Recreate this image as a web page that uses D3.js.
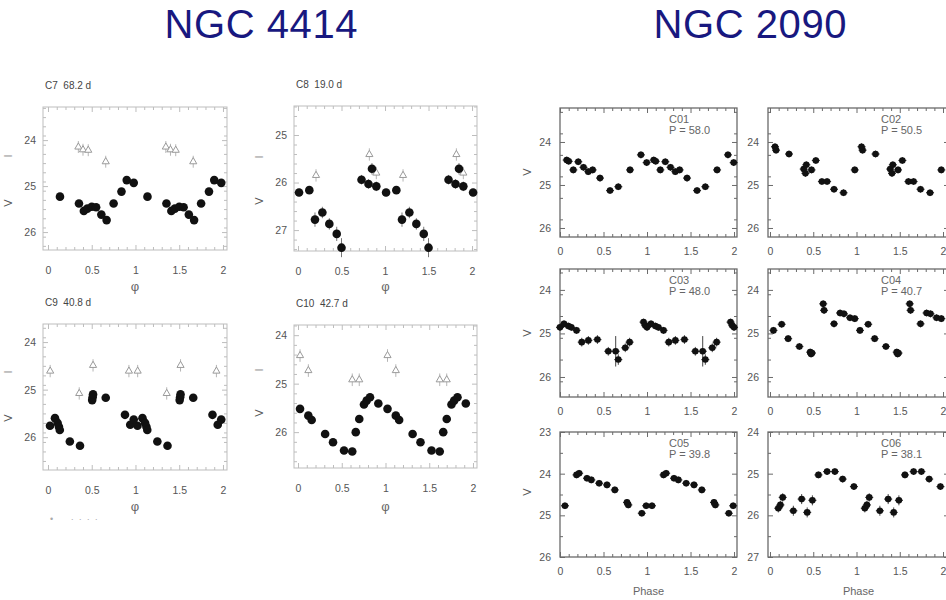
<!DOCTYPE html>
<html><head><meta charset="utf-8">
<script src="https://cdn.jsdelivr.net/npm/d3@7"></script>
<style>body{margin:0;background:#fff}svg{display:block}</style>
</head><body>
<svg id="c" width="946" height="600"></svg>
<script>
// ---------- DATA ----------
const galaxyTitles = ["NGC 4414", "NGC 2090"];
const xTickValues = [0, 0.5, 1, 1.5, 2];
const xTickLabels = ["0", "0.5", "1", "1.5", "2"];

// NGC 4414 (V filled circles, I open triangles)
const c7Label = "C7  68.2 d";
const c7Phase = [0.137, 0.354, 0.41, 0.45, 0.50, 0.55, 0.61, 0.67, 0.75, 0.84, 0.90, 0.98];
const c7V     = [25.23, 25.38, 25.54, 25.49, 25.45, 25.46, 25.62, 25.74, 25.38, 25.12, 24.87, 24.93];
const c7IPhase = [0.347, 0.40, 0.46, 0.66];
const c7I      = [24.15, 24.21, 24.22, 24.47];
const c7YTicks = [24, 25, 26];

const c8Label = "C8  19.0 d";
const c8Phase = [0.012, 0.13, 0.195, 0.28, 0.36, 0.445, 0.50, 0.73, 0.81, 0.85, 0.90];
const c8V     = [26.21, 26.16, 26.78, 26.63, 26.87, 27.08, 27.37, 25.94, 26.03, 25.71, 26.08];
const c8VErr  = [0.08, 0.08, 0.15, 0.12, 0.12, 0.15, 0.2, 0.1, 0.1, 0.12, 0.1];
const c8IPhase = [0.207, 0.82, 0.90];
const c8I      = [25.85, 25.41, 25.80];
const c8YTicks = [25, 26, 27];

const c9Label = "C9  40.8 d";
const c9Phase = [0.023, 0.08, 0.11, 0.125, 0.135, 0.25, 0.366, 0.505, 0.51, 0.515, 0.66, 0.88, 0.94, 0.98];
const c9V     = [25.76, 25.60, 25.70, 25.78, 25.85, 26.09, 26.18, 25.22, 25.16, 25.10, 25.17, 25.53, 25.74, 25.63];
const c9IPhase = [0.025, 0.357, 0.515, 0.925];
const c9I      = [24.61, 25.08, 24.49, 24.61];
const c9YTicks = [24, 25, 26];

const c10Label = "C10  42.7 d";
const c10Phase = [0.023, 0.118, 0.156, 0.31, 0.40, 0.526, 0.62, 0.66, 0.70, 0.754, 0.785, 0.823, 0.918];
const c10V     = [25.52, 25.66, 25.75, 26.04, 26.21, 26.38, 26.40, 26.00, 25.73, 25.43, 25.35, 25.28, 25.41];
const c10IPhase = [0.023, 0.118, 0.62, 0.70];
const c10I      = [24.42, 24.73, 24.92, 24.92];
const c10YTicks = [24, 25, 26];

// NGC 2090 (V only)
const c01Name = "C01", c01Period = "P = 58.0";
const c01Phase = [0.077, 0.10, 0.153, 0.21, 0.27, 0.325, 0.375, 0.46, 0.575, 0.67, 0.805, 0.93, 0.996];
const c01V     = [24.42, 24.45, 24.65, 24.46, 24.59, 24.69, 24.65, 24.84, 25.13, 25.04, 24.65, 24.30, 24.48];

const c02Name = "C02", c02Period = "P = 50.5";
const c02Phase = [0.058, 0.07, 0.22, 0.39, 0.41, 0.42, 0.48, 0.53, 0.60, 0.66, 0.74, 0.85, 0.98];
const c02V     = [24.11, 24.19, 24.28, 24.63, 24.73, 24.53, 24.65, 24.43, 24.92, 24.92, 25.10, 25.18, 24.65];

const c03Name = "C03", c03Period = "P = 48.0";
const c03Phase = [0.0, 0.046, 0.096, 0.13, 0.19, 0.25, 0.326, 0.43, 0.555, 0.64, 0.67, 0.75, 0.80, 0.96, 0.98];
const c03V     = [24.86, 24.78, 24.83, 24.86, 24.93, 25.20, 25.16, 25.14, 25.41, 25.41, 25.60, 25.33, 25.20, 24.74, 24.82];
const c03VErr  = [0.08, 0.08, 0.08, 0.08, 0.08, 0.1, 0.1, 0.1, 0.1, 0.35, 0.12, 0.1, 0.1, 0.08, 0.08];

const c04Name = "C04", c04Period = "P = 40.7";
const c04Phase = [0.04, 0.135, 0.21, 0.34, 0.465, 0.475, 0.485, 0.615, 0.625, 0.74, 0.81, 0.855, 0.925, 0.98];
const c04V     = [24.93, 24.79, 25.12, 25.30, 25.43, 25.47, 25.45, 24.32, 24.47, 24.78, 24.53, 24.55, 24.64, 24.66];

const c05Name = "C05", c05Period = "P = 39.8";
const c05Phase = [0.057, 0.19, 0.22, 0.31, 0.36, 0.45, 0.54, 0.63, 0.77, 0.785, 0.94, 0.99];
const c05V     = [24.77, 24.03, 23.99, 24.11, 24.15, 24.23, 24.27, 24.39, 24.69, 24.75, 24.95, 24.77];

const c06Name = "C06", c06Period = "P = 38.1";
const c06Phase = [0.096, 0.12, 0.147, 0.27, 0.366, 0.43, 0.49, 0.56, 0.66, 0.75, 0.84, 0.97];
const c06V     = [25.83, 25.75, 25.57, 25.89, 25.61, 25.93, 25.64, 25.03, 24.95, 24.95, 25.13, 25.31];
const c06VErr  = [0.1, 0.1, 0.1, 0.12, 0.12, 0.12, 0.12, 0.08, 0.08, 0.08, 0.08, 0.08];

const yTicksA = [24, 25, 26];
const yTicksC05 = [23, 24, 25, 26];
const yTicksC06 = [24, 25, 26, 27];

// ---------- DRAWING ----------
const svg = d3.select("#c");
svg.append("rect").attr("width", 946).attr("height", 600).attr("fill", "#fff");

const FONT = "'Liberation Sans', Arial, Helvetica, sans-serif";

svg.append("text").attr("x", 261).attr("y", 38).attr("text-anchor", "middle")
  .attr("font-family", FONT).attr("font-size", 40).attr("fill", "#18187f")
  .attr("textLength", 193).text(galaxyTitles[0]);
svg.append("text").attr("x", 750).attr("y", 38).attr("text-anchor", "middle")
  .attr("font-family", FONT).attr("font-size", 40).attr("fill", "#18187f")
  .attr("textLength", 193).text(galaxyTitles[1]);

function range(a, b, s) { const r = []; for (let v = a; v <= b + 1e-9; v += s) r.push(+v.toFixed(4)); return r; }

function fold(phases, mags, errs) {
  const out = [];
  phases.forEach((p, i) => {
    for (let k = 0; k < 3; k++) {
      const q = p + k;
      if (q <= 2.02) out.push({ x: q, y: mags[i], e: errs ? errs[i] : 0 });
    }
  });
  return out;
}

function panel(o) {
  const x = d3.scaleLinear().domain(o.xDom).range([o.x0, o.x1]);
  const y = d3.scaleLinear().domain(o.yDom).range([o.y0, o.y1]);
  const g = svg.append("g");
  const fc = o.frame, tc = o.text;
  const minorX = range(0, 2, 0.1).filter(v => xTickValues.indexOf(v) < 0 && v >= o.xDom[0] && v <= o.xDom[1]);
  const minorY = range(Math.ceil(o.yDom[0] * 10) / 10, o.yDom[1], o.yMinor).filter(v => o.yTicks.indexOf(v) < 0);

  function styleAxis(sel, color) {
    sel.select(".domain").remove();
    sel.selectAll("line").attr("stroke", color).attr("stroke-width", 1);
    sel.selectAll("text").attr("fill", tc).attr("font-family", FONT).attr("font-size", o.fs);
  }
  // bottom
  g.append("g").attr("transform", `translate(0,${o.y1})`)
    .call(d3.axisBottom(x).tickValues(xTickValues).tickSize(-o.maj).tickPadding(o.xPad)
      .tickFormat((d, i) => xTickLabels[i])).call(s => styleAxis(s, fc));
  g.append("g").attr("transform", `translate(0,${o.y1})`)
    .call(d3.axisBottom(x).tickValues(minorX).tickSize(-o.min).tickFormat("")).call(s => styleAxis(s, fc));
  // top
  g.append("g").attr("transform", `translate(0,${o.y0})`)
    .call(d3.axisTop(x).tickValues(xTickValues).tickSize(-o.maj).tickFormat("")).call(s => styleAxis(s, fc));
  g.append("g").attr("transform", `translate(0,${o.y0})`)
    .call(d3.axisTop(x).tickValues(minorX).tickSize(-o.min).tickFormat("")).call(s => styleAxis(s, fc));
  // left
  g.append("g").attr("transform", `translate(${o.x0},0)`)
    .call(d3.axisLeft(y).tickValues(o.yTicks).tickSize(-o.maj).tickPadding(o.yPad).tickFormat(d3.format("d")))
    .call(s => styleAxis(s, fc));
  g.append("g").attr("transform", `translate(${o.x0},0)`)
    .call(d3.axisLeft(y).tickValues(minorY).tickSize(-o.min).tickFormat("")).call(s => styleAxis(s, fc));
  // right
  g.append("g").attr("transform", `translate(${o.x1},0)`)
    .call(d3.axisRight(y).tickValues(o.yTicks).tickSize(-o.maj).tickFormat("")).call(s => styleAxis(s, fc));
  g.append("g").attr("transform", `translate(${o.x1},0)`)
    .call(d3.axisRight(y).tickValues(minorY).tickSize(-o.min).tickFormat("")).call(s => styleAxis(s, fc));
  // frame
  g.append("rect").attr("x", o.x0).attr("y", o.y0).attr("width", o.x1 - o.x0).attr("height", o.y1 - o.y0)
    .attr("fill", "none").attr("stroke", fc).attr("stroke-width", o.fw);

  // I-band triangles
  if (o.iPts) {
    const pts = o.iPts;
    const tg = g.append("g");
    tg.selectAll("line.ie").data(pts).enter().append("line")
      .attr("x1", d => x(d.x)).attr("x2", d => x(d.x))
      .attr("y1", d => y(d.y - 0.13)).attr("y2", d => y(d.y + 0.13))
      .attr("stroke", "#b5b5b5").attr("stroke-width", 1);
    tg.selectAll("path").data(pts).enter().append("path")
      .attr("d", d3.symbol(d3.symbolTriangle, 22))
      .attr("transform", d => `translate(${x(d.x)},${y(d.y)})`)
      .attr("fill", "#fff").attr("stroke", "#9a9a9a").attr("stroke-width", 1);
  }
  // V-band points
  const vg = g.append("g");
  vg.selectAll("line.ve").data(o.vPts.filter(d => d.e > 0)).enter().append("line")
    .attr("x1", d => x(d.x)).attr("x2", d => x(d.x))
    .attr("y1", d => y(d.y - d.e)).attr("y2", d => y(d.y + d.e))
    .attr("stroke", o.errColor).attr("stroke-width", 1);
  if (o.cross) {
    vg.selectAll("line.vh").data(o.vPts).enter().append("line")
      .attr("x1", d => x(d.x) - o.cross).attr("x2", d => x(d.x) + o.cross)
      .attr("y1", d => y(d.y)).attr("y2", d => y(d.y))
      .attr("stroke", "#333").attr("stroke-width", 1.2);
  }
  vg.selectAll("circle").data(o.vPts).enter().append("circle")
    .attr("cx", d => x(d.x)).attr("cy", d => y(d.y)).attr("r", o.r)
    .attr("fill", "#111");

  // labels
  if (o.title) {
    g.append("text").attr("x", o.x0 + 2).attr("y", o.y0 - 18).attr("font-family", FONT)
      .attr("font-size", 10).attr("fill", "#444").attr("xml:space", "preserve").text(o.title);
  }
  if (o.ann) {
    g.append("text").attr("x", o.x1 - 68).attr("y", o.y0 + 15).attr("font-family", FONT)
      .attr("font-size", 11).attr("fill", "#666").text(o.ann[0]);
    g.append("text").attr("x", o.x1 - 68).attr("y", o.y0 + 26).attr("font-family", FONT)
      .attr("font-size", 11).attr("fill", "#666").text(o.ann[1]);
  }
  if (o.vLab) {
    g.append("text").attr("transform", `translate(${o.vLab[0]},${o.vLab[1]}) rotate(-90)`)
      .attr("text-anchor", "middle").attr("font-family", FONT).attr("font-size", 11).attr("fill", "#555").text("V");
  }
  if (o.iLab) {
    g.append("text").attr("transform", `translate(${o.iLab[0]},${o.iLab[1]}) rotate(-90)`)
      .attr("text-anchor", "middle").attr("font-family", FONT).attr("font-size", 11).attr("fill", "#999").text("I");
  }
  if (o.xLab) {
    g.append("text").attr("x", (o.x0 + o.x1) / 2).attr("y", o.xLab).attr("text-anchor", "middle")
      .attr("font-family", FONT).attr("font-size", o.xLabFs).attr("fill", "#666").text(o.xLabText);
  }
}

const leftCommon = { frame: "#bdbdbd", text: "#555", fs: 10.5, maj: 5, min: 3, fw: 1, r: 4.3, yMinor: 0.2,
  errColor: "#777", xPad: 17, yPad: 7, xLabFs: 13, xLabText: "\u03c6" };
const rightCommon = { frame: "#6a6a6a", text: "#555", fs: 10.5, maj: 5, min: 3, fw: 1.3, r: 3.3, yMinor: 0.5,
  errColor: "#444", xPad: 11, yPad: 9, cross: 4, xLabFs: 11, xLabText: "Phase" };

// NGC 4414
panel(Object.assign({}, leftCommon, {
  x0: 43, x1: 227, y0: 107, y1: 250, xDom: [-0.057, 2.046], yDom: [23.28, 26.39], yTicks: c7YTicks,
  vPts: fold(c7Phase, c7V), iPts: fold(c7IPhase, c7I), title: c7Label, vLab: [12, 203], iLab: [12, 156], xLab: 291 }));
panel(Object.assign({}, leftCommon, {
  x0: 294, x1: 477, y0: 106, y1: 251, xDom: [-0.046, 2.057], yDom: [24.39, 27.44], yTicks: c8YTicks,
  vPts: fold(c8Phase, c8V, c8VErr), iPts: fold(c8IPhase, c8I), title: c8Label, vLab: [263, 201], iLab: [263, 157], xLab: 291 }));
panel(Object.assign({}, leftCommon, {
  x0: 43, x1: 227, y0: 324, y1: 470, xDom: [-0.057, 2.046], yDom: [23.62, 26.69], yTicks: c9YTicks,
  vPts: fold(c9Phase, c9V), iPts: fold(c9IPhase, c9I), title: c9Label, vLab: [12, 418], iLab: [12, 372], xLab: 511 }));
panel(Object.assign({}, leftCommon, {
  x0: 294, x1: 477, y0: 325, y1: 468, xDom: [-0.046, 2.046], yDom: [23.79, 26.74], yTicks: c10YTicks,
  vPts: fold(c10Phase, c10V), iPts: fold(c10IPhase, c10I), title: c10Label, vLab: [263, 413], iLab: [263, 370], xLab: 511 }));

// stray legend dots under C9
svg.append("text").attr("x", 50).attr("y", 522).attr("font-family", FONT).attr("font-size", 9)
  .attr("fill", "#aaa").attr("xml:space", "preserve").text("\u2022       \u00b7  \u00b7  \u00b7  \u00b7");

// NGC 2090
const errR = 0.08;
const constErr = arr => arr.map(() => errR);
panel(Object.assign({}, rightCommon, {
  x0: 560, x1: 737, y0: 108, y1: 237, xDom: [0, 2.034], yDom: [23.21, 26.21], yTicks: yTicksA,
  vPts: fold(c01Phase, c01V, constErr(c01V)), ann: [c01Name, c01Period], vLab: [531, 172] }));
panel(Object.assign({}, rightCommon, {
  x0: 768, x1: 949, y0: 108, y1: 237, xDom: [-0.023, 2.069], yDom: [23.21, 26.21], yTicks: yTicksA,
  vPts: fold(c02Phase, c02V, constErr(c02V)), ann: [c02Name, c02Period] }));
panel(Object.assign({}, rightCommon, {
  x0: 560, x1: 737, y0: 269, y1: 397, xDom: [0, 2.034], yDom: [23.52, 26.46], yTicks: yTicksA,
  vPts: fold(c03Phase, c03V, c03VErr), ann: [c03Name, c03Period], vLab: [531, 333] }));
panel(Object.assign({}, rightCommon, {
  x0: 768, x1: 949, y0: 269, y1: 397, xDom: [-0.023, 2.069], yDom: [23.52, 26.46], yTicks: yTicksA,
  vPts: fold(c04Phase, c04V, constErr(c04V)), ann: [c04Name, c04Period] }));
panel(Object.assign({}, rightCommon, {
  x0: 560, x1: 737, y0: 432, y1: 557, xDom: [0, 2.034], yDom: [23, 26], yTicks: yTicksC05,
  vPts: fold(c05Phase, c05V, constErr(c05V)), ann: [c05Name, c05Period], vLab: [531, 492], xLab: 595 }));
panel(Object.assign({}, rightCommon, {
  x0: 768, x1: 949, y0: 432, y1: 557, xDom: [-0.023, 2.069], yDom: [24, 27], yTicks: yTicksC06,
  vPts: fold(c06Phase, c06V, c06VErr), ann: [c06Name, c06Period], xLab: 595 }));
</script>
</body></html>
